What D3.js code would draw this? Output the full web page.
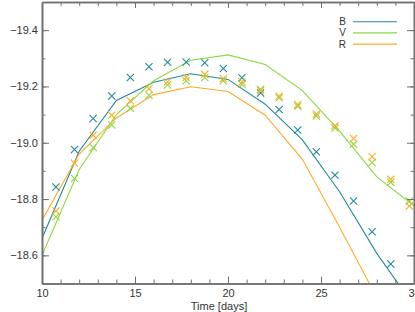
<!DOCTYPE html>
<html>
<head>
<meta charset="utf-8">
<script src="https://cdn.jsdelivr.net/npm/d3@7"></script>
<style>
  body { margin: 0; background: #fff; }
  svg { display: block; font-family: "Liberation Sans", Arial, sans-serif; }
</style>
</head>
<body>
<svg id="chart" width="415" height="312"></svg>
<script>
// model curves, vertices every 2 days
var modelDays = [10, 12, 14, 16, 18, 20, 22, 24, 26, 28, 30];
var modelB = [-18.66, -18.97, -19.15, -19.215, -19.245, -19.225, -19.137, -19.01, -18.826, -18.607, -18.42];
var modelV = [-18.60, -18.905, -19.10, -19.22, -19.293, -19.312, -19.278, -19.185, -19.041, -18.879, -18.776];
var modelR = [-18.725, -18.96, -19.088, -19.171, -19.199, -19.182, -19.098, -18.941, -18.70, -18.45, -18.20];

// observed points
var obsDays = [10.75, 11.75, 12.75, 13.75, 14.75, 15.75, 16.75, 17.75, 18.75, 19.75,
               20.75, 21.75, 22.75, 23.75, 24.75, 25.75, 26.75, 27.75, 28.75, 29.75];
var obsB = [-18.843, -18.976, -19.086, -19.166, -19.232, -19.27, -19.286, -19.287, -19.284, -19.264,
            -19.231, -19.177, -19.118, -19.045, -18.968, -18.885, -18.793, -18.684, -18.569, -18.45];
var obsV = [-18.737, -18.873, -18.983, -19.063, -19.122, -19.169, -19.205, -19.22, -19.232, -19.22,
            -19.208, -19.19, -19.16, -19.13, -19.095, -19.052, -18.995, -18.93, -18.86, -18.793];
var obsR = [-18.758, -18.927, -19.027, -19.098, -19.149, -19.193, -19.216, -19.232, -19.243, -19.228,
            -19.216, -19.185, -19.165, -19.136, -19.102, -19.06, -19.015, -18.95, -18.87, -18.775];

var bands = ["B", "V", "R"];
var colors = {B: "#23899b", V: "#8cd93e", R: "#ffab26"};

var xMajor = [10, 15, 20, 25, 30];
var yMajor = [-19.4, -19.2, -19.0, -18.8, -18.6];

var svg = d3.select("#chart");

var pLeft = 42, pRight = 414, pTop = 2, pBottom = 283.5;

var x = d3.scaleLinear().domain([10, 30]).range([pLeft, pRight]);
var y = d3.scaleLinear().domain([-18.5, -19.5]).range([pBottom, pTop]);

svg.append("clipPath").attr("id", "plotclip")
  .append("rect")
  .attr("x", pLeft).attr("y", pTop)
  .attr("width", pRight - pLeft).attr("height", pBottom - pTop);

var plot = svg.append("g").attr("clip-path", "url(#plotclip)");

var line = d3.line()
  .x(function(d) { return x(d[0]); })
  .y(function(d) { return y(d[1]); });

var models = {B: modelB, V: modelV, R: modelR};
var obs = {B: obsB, V: obsV, R: obsR};

bands.forEach(function(b) {
  plot.append("path")
    .datum(d3.zip(modelDays, models[b]))
    .attr("d", line)
    .attr("fill", "none")
    .attr("stroke", colors[b])
    .attr("stroke-width", 1.1);
});

var s = 3.6;
bands.forEach(function(b) {
  plot.selectAll(".x" + b)
    .data(d3.zip(obsDays, obs[b]))
    .enter().append("path")
    .attr("d", function(d) {
      var cx = x(d[0]), cy = y(d[1]);
      return "M" + (cx - s) + "," + (cy - s) + "L" + (cx + s) + "," + (cy + s) +
             "M" + (cx - s) + "," + (cy + s) + "L" + (cx + s) + "," + (cy - s);
    })
    .attr("stroke", colors[b])
    .attr("stroke-width", 1.1)
    .attr("fill", "none");
});

// axes
var axisColor = "#707070";
var fmtY = d3.format(".1f");

function styleAxis(g) {
  g.select(".domain").attr("stroke", axisColor).attr("stroke-width", 1.6);
  g.selectAll(".tick line").attr("stroke", axisColor).attr("stroke-width", 1);
  g.selectAll("text").attr("fill", "#333").attr("font-size", "11px")
    .attr("font-family", "Liberation Sans, Arial, sans-serif");
}

var xMinor = d3.range(10, 31, 1);
var yMinor = d3.range(-19.5, -18.45, 0.1).map(function(v) { return Math.round(v * 10) / 10; });

// bottom
svg.append("g").attr("transform", "translate(0," + pBottom + ")")
  .call(d3.axisTop(x).tickValues(xMinor).tickSize(4).tickFormat("").tickSizeOuter(0))
  .call(styleAxis);
svg.append("g").attr("transform", "translate(0," + pBottom + ")")
  .call(d3.axisTop(x).tickValues(xMajor).tickSize(7).tickFormat(d3.format("d")).tickSizeOuter(0))
  .call(styleAxis)
  .call(function(g) {
    g.selectAll("text").attr("y", 13.5).attr("dy", 0);
  });

// top
svg.append("g").attr("transform", "translate(0," + pTop + ")")
  .call(d3.axisBottom(x).tickValues(xMinor).tickSize(4).tickFormat("").tickSizeOuter(0))
  .call(styleAxis);
svg.append("g").attr("transform", "translate(0," + pTop + ")")
  .call(d3.axisBottom(x).tickValues(xMajor).tickSize(6).tickFormat("").tickSizeOuter(0))
  .call(styleAxis);

// left
svg.append("g").attr("transform", "translate(" + pLeft + ",0)")
  .call(d3.axisRight(y).tickValues(yMinor).tickSize(3.5).tickFormat("").tickSizeOuter(0))
  .call(styleAxis);
svg.append("g").attr("transform", "translate(" + pLeft + ",0)")
  .call(d3.axisRight(y).tickValues(yMajor).tickSize(7).tickFormat(fmtY).tickSizeOuter(0))
  .call(styleAxis)
  .call(function(g) {
    g.selectAll("text").attr("text-anchor", "end").attr("x", -4);
  });

// right
svg.append("g").attr("transform", "translate(" + pRight + ",0)")
  .call(d3.axisLeft(y).tickValues(yMinor).tickSize(3.5).tickFormat("").tickSizeOuter(0))
  .call(styleAxis);
svg.append("g").attr("transform", "translate(" + pRight + ",0)")
  .call(d3.axisLeft(y).tickValues(yMajor).tickSize(7).tickFormat("").tickSizeOuter(0))
  .call(styleAxis);

// axis titles
svg.append("text")
  .attr("x", 219).attr("y", 309.5)
  .attr("text-anchor", "middle")
  .attr("font-size", "11px")
  .attr("fill", "#333")
  .text("Time [days]");

svg.append("text")
  .attr("transform", "translate(-2,128) rotate(-90)")
  .attr("text-anchor", "middle")
  .attr("font-size", "11px")
  .attr("fill", "#bbb")
  .text("Absolute Magnitude");

// legend
var legend = svg.append("g");
bands.forEach(function(b, i) {
  var ly = 21.7 + i * 11.2;
  legend.append("text")
    .attr("x", 346).attr("y", ly + 3.5)
    .attr("text-anchor", "end")
    .attr("font-size", "10px")
    .attr("fill", "#333")
    .text(b);
  legend.append("line")
    .attr("x1", 353).attr("x2", 397)
    .attr("y1", ly).attr("y2", ly)
    .attr("stroke", colors[b])
    .attr("stroke-width", 1.1);
});
</script>
</body>
</html>
